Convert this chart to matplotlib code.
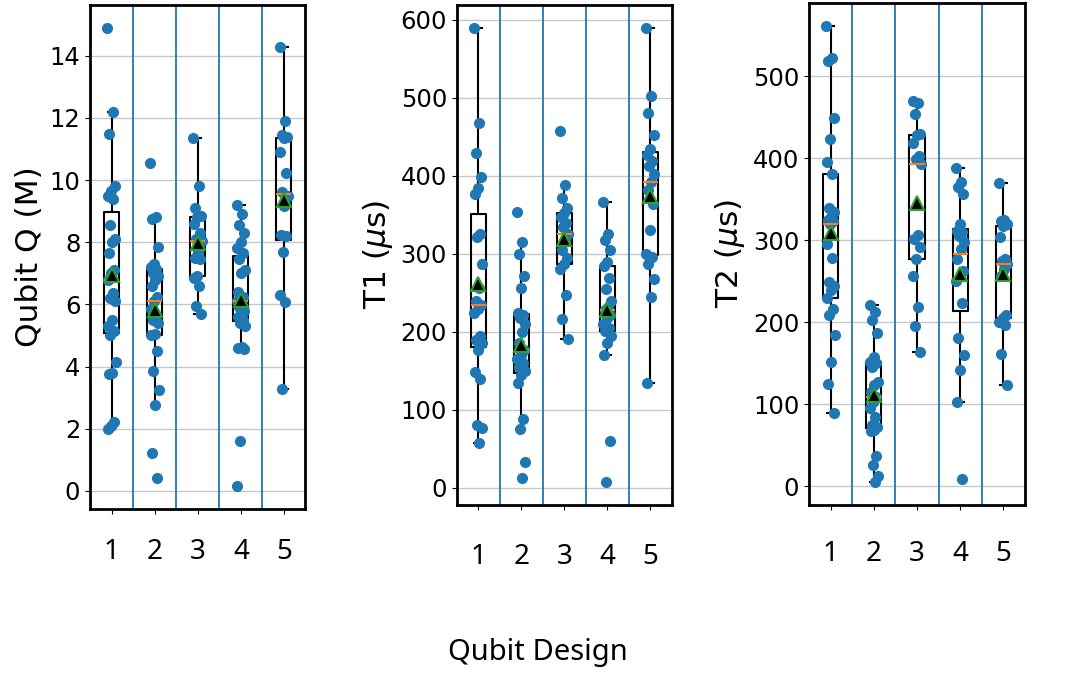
import numpy as np
import matplotlib.pyplot as plt

designs = [1, 2, 3, 4, 5]

# Qubit Q (millions) per design
q1 = [14.9, 12.2, 11.5, 9.8, 9.65, 9.5, 9.4, 8.55, 8.1, 8.0, 7.65, 7.1, 7.0, 6.8,
      6.35, 6.2, 6.1, 5.5, 5.3, 5.15, 5.0, 4.15, 3.8, 3.75, 2.2, 2.1, 2.0]
q2 = [10.55, 8.8, 8.75, 7.85, 7.3, 7.2, 7.15, 7.0, 6.9, 6.8, 6.6, 6.25, 6.1, 5.85,
      5.65, 5.5, 5.4, 5.05, 5.0, 4.5, 3.85, 3.25, 2.75, 1.2, 0.4]
q3 = [11.35, 9.8, 9.1, 8.85, 8.8, 8.6, 8.3, 8.1, 8.05, 7.7, 7.5, 7.45, 6.92, 6.85,
      6.6, 5.95, 5.7]
q4 = [9.2, 8.9, 8.55, 8.3, 8.0, 7.8, 7.65, 7.45, 7.1, 7.0, 6.4, 6.25, 6.2, 6.1,
      5.95, 5.9, 5.8, 5.7, 5.6, 5.5, 5.4, 5.3, 4.63, 4.6, 4.57, 1.6, 0.15]
q5 = [14.29, 11.89, 11.45, 11.4, 11.34, 10.91, 10.24, 9.61, 9.5, 9.18, 8.23, 8.2,
      7.68, 6.31, 6.07, 3.27]

# T1 (us) per design
t1_1 = [590, 468, 429, 398, 385, 377, 325, 321, 287, 256, 240, 234, 229, 224, 194,
        190, 186, 176, 149, 140, 81, 77, 57]
t1_2 = [353, 315, 300, 271, 256, 224, 221, 218, 210, 200, 185, 177, 170, 165, 160,
        155, 150, 145, 134, 88, 75, 33, 13]
t1_3 = [457, 388, 372, 359, 352, 347, 340, 335, 326, 318, 305, 295, 287, 281, 247,
        217, 191]
t1_4 = [367, 326, 318, 305, 290, 284, 269, 255, 240, 232, 228, 222, 218, 210, 205,
        201, 195, 185, 170, 60, 7]
t1_5 = [590, 503, 480, 452, 435, 427, 419, 412, 403, 392, 382, 364, 331, 300, 296,
        287, 268, 244, 134]

# T2 (us) per design
t2_1 = [562, 523, 519, 449, 424, 395, 381, 339, 334, 329, 325, 323, 320, 296, 278,
        249, 244, 240, 230, 216, 209, 185, 151, 125, 89]
t2_2 = [221, 212, 203, 187, 158, 152, 150, 146, 127, 123, 115, 109, 103, 96, 85,
        75, 72, 69, 67, 37, 26, 12, 5]
t2_3 = [470, 467, 454, 430, 428, 419, 403, 399, 393, 306, 302, 292, 277, 257, 219,
        195, 164]
t2_4 = [388, 371, 365, 356, 320, 311, 310, 305, 298, 290, 277, 263, 256, 250, 224,
        181, 160, 142, 103, 9]
t2_5 = [370, 325, 323, 320, 318, 304, 277, 275, 271, 265, 257, 209, 205, 200, 197,
        161, 124]

panels = [
    ([q1, q2, q3, q4, q5], 'Qubit Q (M)', [0.0834, 0.2655, 0.1997, 0.7273], 17.5),
    ([t1_1, t1_2, t1_3, t1_4, t1_5], r'T1 ($\mu$s)', [0.4233, 0.2713, 0.1995, 0.7215], 24),
    ([t2_1, t2_2, t2_3, t2_4, t2_5], r'T2 ($\mu$s)', [0.7498, 0.2713, 0.2002, 0.7248], 22),
]

fig = plt.figure(figsize=(10.79, 6.93), dpi=100)

for groups, label, pos, xpad in panels:
    ax = fig.add_axes(pos)
    for i, vals in enumerate(groups):
        n = len(vals)
        # deterministic horizontal spread of the dots
        jit = ((np.arange(n) * 0.618) % 1.0 - 0.5) * 0.2
        ax.plot(designs[i] + jit, vals, 'o', color='C0', ms=7, zorder=3)
    bp = ax.boxplot(groups, positions=designs, widths=0.35, showfliers=False,
                    showmeans=True,
                    boxprops=dict(color='black', linewidth=1.5),
                    whiskerprops=dict(color='black', linewidth=1.5),
                    capprops=dict(color='black', linewidth=1.5),
                    medianprops=dict(color='C1', linewidth=1.5),
                    meanprops=dict(marker='^', markerfacecolor='black',
                                   markeredgecolor='C2', markeredgewidth=1.5,
                                   markersize=10),
                    zorder=2)
    for art in bp['medians'] + bp['means']:
        art.set_zorder(4)
    for b in [1.5, 2.5, 3.5, 4.5]:
        ax.axvline(b, color='C0', linewidth=1.3, zorder=1)
    ax.set_xlim(0.5, 5.5)
    ax.yaxis.grid(True, color='#c8c8c8', linewidth=1)
    ax.set_axisbelow(True)
    for s in ax.spines.values():
        s.set_linewidth(2)
    ax.set_xticks(designs)
    ax.set_xticklabels([str(d) for d in designs], fontfamily='Noto Sans', fontsize=20)
    ax.tick_params(axis='x', pad=xpad)
    ax.tick_params(axis='y', labelsize=17.5)
    ax.set_ylabel(label, fontsize=22.5)

fig.text(0.4986, 0.059, 'Qubit Design', fontfamily='Noto Sans', fontsize=21,
         ha='center', va='center')

fig.savefig('out.png', dpi=100)
